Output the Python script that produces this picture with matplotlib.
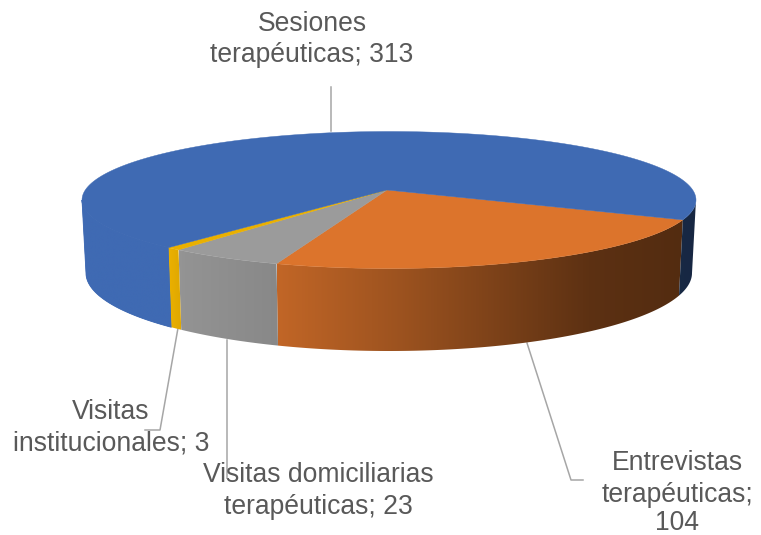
import numpy as np
import matplotlib
matplotlib.use('Agg')
import matplotlib.pyplot as plt
from matplotlib.patches import Polygon

# Chart data, in drawing order (starts at the right edge, goes clockwise)
categories = ['Entrevistas\nterapéuticas;', 'Visitas domiciliarias\nterapéuticas;', 'Visitas\ninstitucionales;', 'Sesiones\nterapéuticas;']
values = [104, 23, 3, 313]
colors = ['#dc742c', '#9b9b9b', '#eab000', '#3f6ab3']

# Pie geometry in picture pixels
CX, CY, RX, RY = 389, 200, 307, 68.5
BOT_CY, BOT_RX, BOT_RY = 273, 303, 78
APEX = (387, 190)
START = 22.5
PERSP = 8

TEXT_COL = '#595959'
LINE_COL = '#a6a6a6'


# Tilted pie: true angle to the angle on the drawn ellipse
def warp(deg):
    return deg - PERSP * np.sin(np.radians(2 * deg))


def top_xy(t):
    t = np.radians(t)
    return CX + RX * np.cos(t), CY + RY * np.sin(t)


def bot_xy(t):
    t = np.radians(t)
    return CX + BOT_RX * np.cos(t), BOT_CY + BOT_RY * np.sin(t)


# Walls get darker towards the right, the far left is as bright as the top
def shade(x):
    return np.interp(x, [82, 170, 182, 275, 400, 590, 700], [1.0, 1.0, 0.95, 0.88, 0.71, 0.42, 0.37])


def draw_wall(ax, t0, t1, color, backing=False):
    t = np.linspace(t0, t1, 200)
    xt, yt = top_xy(t)
    xb, yb = bot_xy(t)
    px = np.r_[xt, xb[::-1]]
    py = np.r_[yt, yb[::-1]]
    # flat fill behind the image so no white seam shows along the rim
    if backing:
        ax.fill(px, py, color=color, lw=0.6, zorder=1.5)
    left, right = px.min(), px.max()
    xs = np.linspace(left, right, 256)
    rgb = np.array(matplotlib.colors.to_rgb(color))
    img = (shade(xs)[:, None] * rgb)[None, :, :]
    im = ax.imshow(img, extent=(left, right, py.max(), py.min()), aspect='auto',
                   interpolation='bilinear', zorder=2)
    clip = Polygon(np.c_[px, py], closed=True, transform=ax.transData)
    im.set_clip_path(clip)


fig = plt.figure(figsize=(7.61, 5.35), dpi=100)
ax = fig.add_axes([0, 0, 1, 1])
ax.axis('off')

plt.rcParams['font.family'] = ['Liberation Sans', 'DejaVu Sans']

# slice edges from the values
total = sum(values)
edges = [START]
for v in values:
    edges.append(edges[-1] + 360 * v / total)
edges = [warp(e) for e in edges]

# walls, only the front half shows
for i in range(len(values)):
    t0, t1 = edges[i], edges[i + 1]
    if i == len(values) - 1:
        draw_wall(ax, t0, 180, colors[i], backing=True)
        draw_wall(ax, 0, edges[0], colors[i])
    else:
        draw_wall(ax, t0, t1, colors[i])

# top face
for i in range(len(values)):
    t = np.linspace(edges[i], edges[i + 1], 300)
    x, y = top_xy(t)
    ax.fill(np.r_[APEX[0], x], np.r_[APEX[1], y], color=colors[i], lw=0.3, zorder=3)

# leader lines
ax.plot([331, 331], [87, 131], color=LINE_COL, lw=1.1, zorder=1)
ax.plot([527, 571, 583], [343, 480, 480], color=LINE_COL, lw=1.1, zorder=1)
ax.plot([227, 227], [340, 478], color=LINE_COL, lw=1.1, zorder=1)
ax.plot([178, 160, 145], [328, 430, 430], color=LINE_COL, lw=1.1, zorder=1)

# data labels, one text per line, first baseline given
label_pos = [(677, 470), (318, 482), (111, 419), (312, 31)]
for name, v, (lx, ly) in zip(categories, values, label_pos):
    lines = f'{name} {v}'.split('\n')
    if v == 104:
        lines = name.split('\n') + [str(v)]
    for n, line in enumerate(lines):
        # last line of the right label has to stay inside the picture
        y = ly + 31.5 * n if n < 2 else ly + 60
        ax.text(lx, y, line, ha='center', va='baseline', fontsize=19.1, color=TEXT_COL, zorder=4)

ax.set_xlim(0, 761)
ax.set_ylim(535, 0)
fig.savefig('out.png', dpi=100)
